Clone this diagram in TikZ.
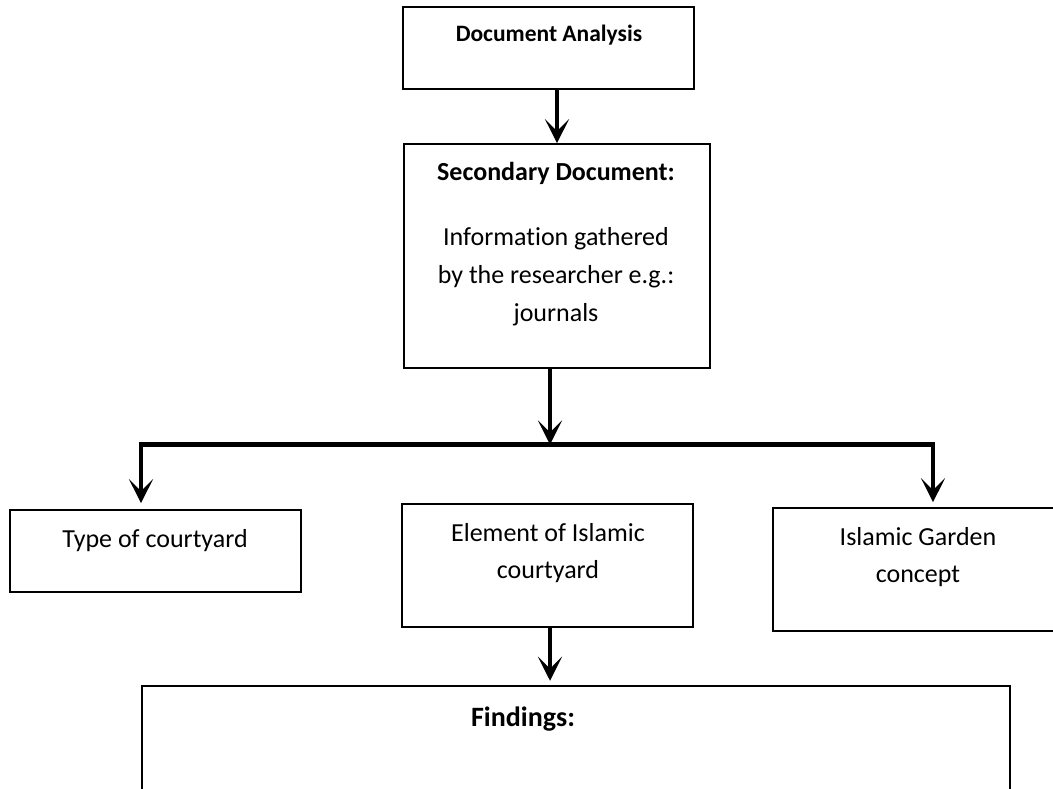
\documentclass[tikz,border=0pt]{standalone}
\usepackage{fontspec}
\setmainfont{Carlito}[Ligatures=NoCommon]
\usetikzlibrary{arrows.meta,calc}
\begin{document}
\begin{tikzpicture}[x=1pt,y=-1pt,
  box/.style={draw=black, line width=1.6pt, inner sep=0pt},
  lbl/.style={anchor=base, inner sep=0pt, font=\fontsize{26}{37}\selectfont},
  arr/.style={line width=4pt, -{Stealth[length=24pt,width=24pt,inset=12pt]}},
  barline/.style={line width=5pt}]
\clip (0,0) rectangle (1053,788);
\fill[white] (0,0) rectangle (1053,788);
% boxes
\node[box, minimum width=291pt, minimum height=82pt] (da) at (548.5,48) {};
\node[lbl, font=\bfseries\fontsize{23.5}{30}\selectfont] (dat) at (549,41) {Document Analysis};
\node[box, minimum width=306pt, minimum height=224pt] (sd) at (557,256) {};
\node[lbl, font=\bfseries\fontsize{26}{38}\selectfont] (sdt) at (556,180) {Secondary Document:};
\node[lbl, font=\fontsize{26}{38}\selectfont] (sdb) at (556,245) {\parbox[t]{300pt}{\centering Information gathered\\by the researcher e.g.:\\journals}};
\node[box, minimum width=291pt, minimum height=82pt] (t1) at (155.5,551) {};
\node[lbl] (t1t) at (155,547) {Type of courtyard};
\node[box, minimum width=291pt, minimum height=123pt] (e) at (547.5,565.5) {};
\node[lbl] (et) at (548,541) {\parbox[t]{280pt}{\centering Element of Islamic\\courtyard}};
\node[box, minimum width=290pt, minimum height=123pt] (g) at (918,569.5) {};
\node[lbl] (gt) at (918,545) {\parbox[t]{280pt}{\centering Islamic Garden\\concept}};
\node[box, line width=2.5pt, minimum width=868pt, minimum height=140pt] (f) at (576,756) {};
\node[lbl, font=\bfseries\fontsize{28}{34}\selectfont] (ft) at (523,726) {Findings:};
% connectors
\coordinate (barL) at (141,444.5);
\coordinate (barM) at (550,444.5);
\coordinate (barR) at (933,444.5);
\draw[barline] ([xshift=-2pt]barL) -- ([xshift=2pt]barR);
\draw[arr] (da.south -| sd.north) -- (sd.north);
\draw[arr] (sd.south -| barM) -- (barM);
\draw[arr, shorten >=6pt] (barL) -- (barL |- t1.north);
\draw[arr, shorten >=5pt] (barR) -- (barR |- g.north);
\draw[arr, shorten >=4pt] (e.south -| barM) -- (barM |- f.north);
\end{tikzpicture}
\end{document}
